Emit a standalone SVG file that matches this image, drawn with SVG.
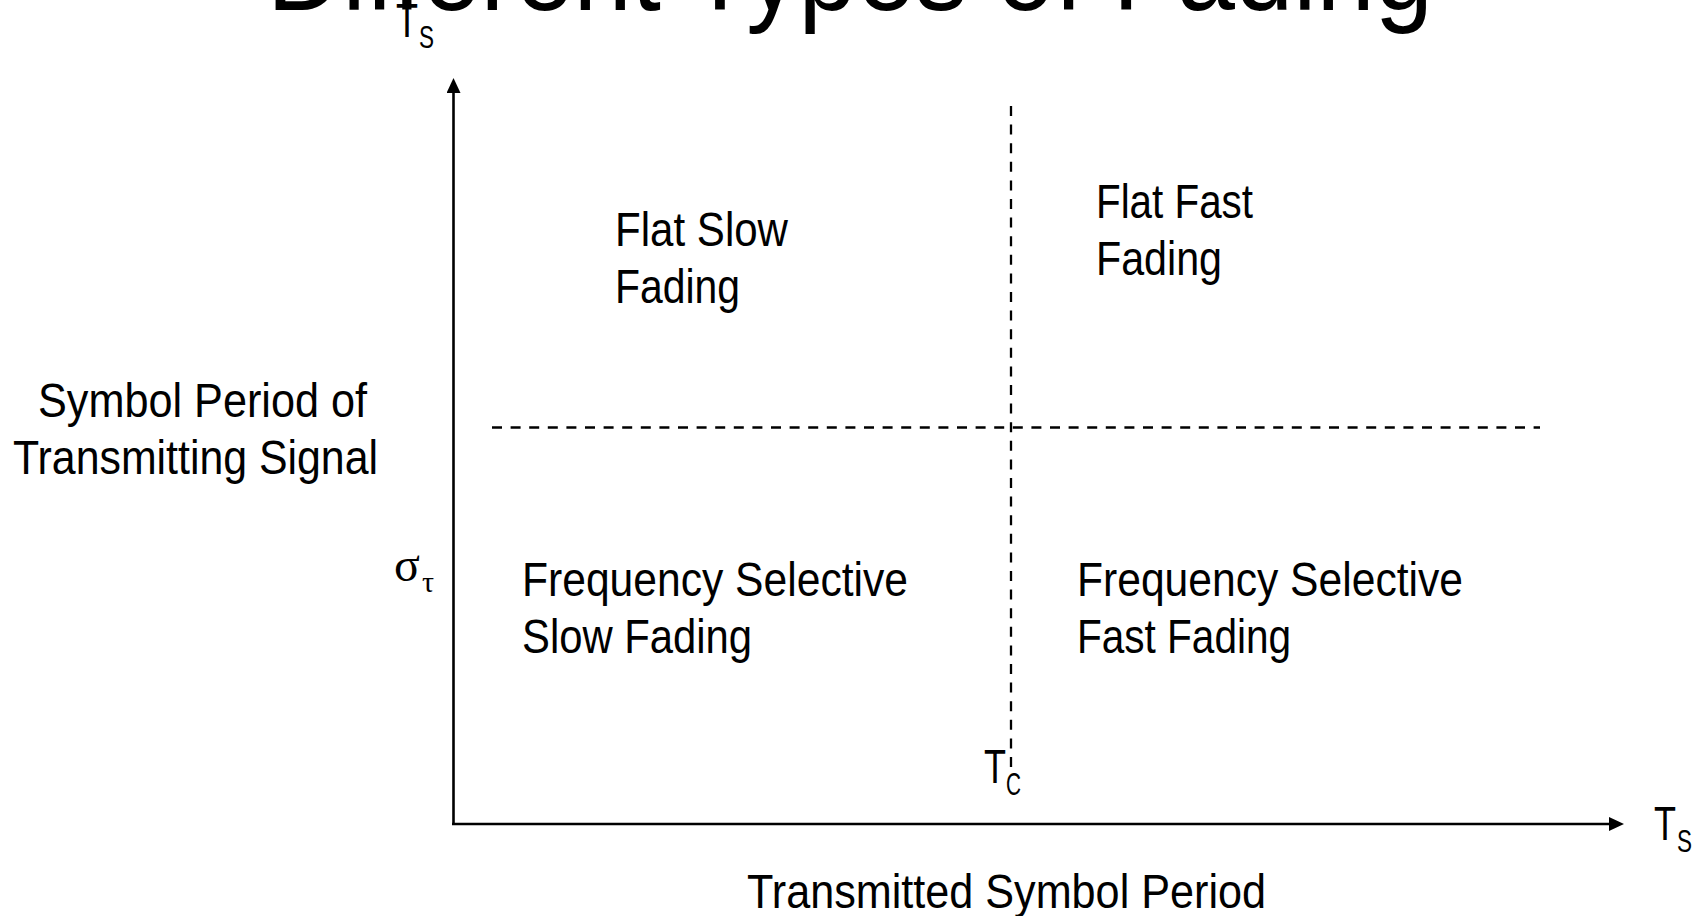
<svg xmlns="http://www.w3.org/2000/svg" width="1703" height="916" viewBox="0 0 1703 916">
<style>
.t{font-family:"Liberation Sans",Arial,sans-serif;fill:#000;font-size:48px}
.sub{font-family:"Liberation Sans",Arial,sans-serif;fill:#000;font-size:32px}
.g{font-family:"Liberation Serif","Times New Roman",serif;fill:#000}
.axis{stroke:#000;stroke-width:2.6;fill:none}
.dash{stroke:#000;stroke-width:2.3;fill:none;stroke-dasharray:10 8.6}
</style>
<defs>
<marker id="arr" markerUnits="userSpaceOnUse" markerWidth="16" markerHeight="16" refX="7" refY="7" orient="auto">
<path d="M0,0 L15,7 L0,14 z" fill="#000"/>
</marker>
</defs>
<rect width="1703" height="916" fill="#fff"/>
<g id="title">
<text class="t" x="267" y="10" style="font-size:116px" textLength="1166" lengthAdjust="spacingAndGlyphs">Different Types of Fading</text>
</g>
<g id="connectors">
<line class="axis" x1="453.5" y1="825" x2="453.5" y2="86" marker-end="url(#arr)"/>
<line class="axis" x1="452" y1="824" x2="1616" y2="824" marker-end="url(#arr)"/>
<line class="dash" x1="492" y1="427.5" x2="1540" y2="427.5"/>
<line class="dash" x1="1011" y1="106" x2="1011" y2="772"/>
</g>
<g id="label-ts-top">
<text class="t" x="396" y="37" textLength="22" lengthAdjust="spacingAndGlyphs">T</text>
<text class="sub" x="419" y="48" textLength="15" lengthAdjust="spacingAndGlyphs">S</text>
</g>
<g id="label-ts-right">
<text class="t" x="1654" y="840" textLength="22" lengthAdjust="spacingAndGlyphs">T</text>
<text class="sub" x="1677" y="852" textLength="15" lengthAdjust="spacingAndGlyphs">S</text>
</g>
<g id="label-tc">
<text class="t" x="984" y="783" textLength="22" lengthAdjust="spacingAndGlyphs">T</text>
<text class="sub" x="1006" y="795" textLength="15" lengthAdjust="spacingAndGlyphs">C</text>
</g>
<g id="label-sigma">
<text class="g" x="394" y="581" style="font-size:48px">σ</text>
<text class="g" x="422" y="592" style="font-size:30px">τ</text>
</g>
<g id="y-label">
<text class="t" x="38" y="417" textLength="329" lengthAdjust="spacingAndGlyphs">Symbol Period of</text>
<text class="t" x="13" y="474" textLength="365" lengthAdjust="spacingAndGlyphs">Transmitting Signal</text>
</g>
<g id="x-label">
<text class="t" x="747" y="908" textLength="519" lengthAdjust="spacingAndGlyphs">Transmitted Symbol Period</text>
</g>
<g id="flat-slow">
<text class="t" x="615" y="246" textLength="173" lengthAdjust="spacingAndGlyphs">Flat Slow</text>
<text class="t" x="615" y="303" textLength="125" lengthAdjust="spacingAndGlyphs">Fading</text>
</g>
<g id="flat-fast">
<text class="t" x="1096" y="218" textLength="157" lengthAdjust="spacingAndGlyphs">Flat Fast</text>
<text class="t" x="1096" y="275" textLength="126" lengthAdjust="spacingAndGlyphs">Fading</text>
</g>
<g id="fs-slow">
<text class="t" x="522" y="596" textLength="386" lengthAdjust="spacingAndGlyphs">Frequency Selective</text>
<text class="t" x="522" y="653" textLength="230" lengthAdjust="spacingAndGlyphs">Slow Fading</text>
</g>
<g id="fs-fast">
<text class="t" x="1077" y="596" textLength="386" lengthAdjust="spacingAndGlyphs">Frequency Selective</text>
<text class="t" x="1077" y="653" textLength="214" lengthAdjust="spacingAndGlyphs">Fast Fading</text>
</g>
</svg>
